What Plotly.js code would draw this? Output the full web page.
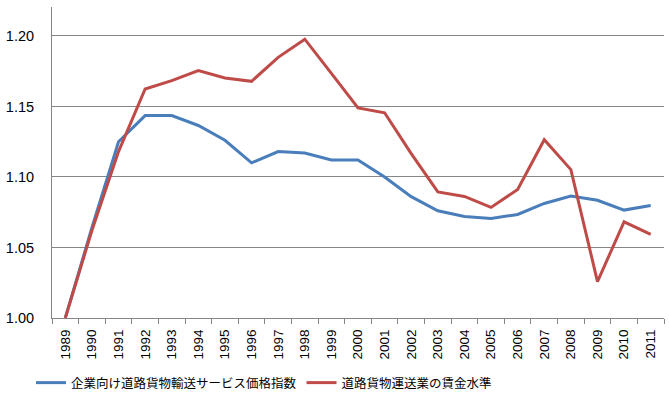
<!DOCTYPE html>
<html>
<head>
<meta charset="utf-8">
<script src="https://cdn.plot.ly/plotly-3.0.1.min.js"></script>
<style>html,body{margin:0;padding:0;background:#fff;}#chart{width:669px;height:397px;}</style>
</head>
<body>
<div id="chart"></div>
<script>
const years = ["1989","1990","1991","1992","1993","1994","1995","1996","1997","1998","1999","2000","2001","2002","2003","2004","2005","2006","2007","2008","2009","2010","2011"];
const seriesNames = ["企業向け道路貨物輸送サービス価格指数", "道路貨物運送業の賃金水準"];
const priceIndex = [1.000,1.064,1.125,1.1435,1.1435,1.1365,1.126,1.110,1.118,1.117,1.112,1.112,1.100,1.086,1.076,1.072,1.0706,1.0734,1.0812,1.0864,1.0835,1.0765,1.0798];
const wageLevel = [1.000,1.062,1.118,1.1624,1.1683,1.1754,1.1702,1.1678,1.1848,1.1977,1.1734,1.149,1.1455,1.1165,1.0894,1.0862,1.0784,1.0911,1.1264,1.1052,1.0258,1.0682,1.0593];
const yTicks = [1.00,1.05,1.10,1.15,1.20];

const traces = [
  {x: years, y: priceIndex, name: seriesNames[0], type: "scatter", mode: "lines",
   line: {color: "#4A7EBB", width: 3}},
  {x: years, y: wageLevel, name: seriesNames[1], type: "scatter", mode: "lines",
   line: {color: "#BE4B48", width: 3}}
];

const layout = {
  width: 669, height: 397,
  margin: {l: 52, r: 5, t: 7, b: 79},
  paper_bgcolor: "#fff", plot_bgcolor: "#fff",
  showlegend: true,
  legend: {orientation: "h", xref: "container", yref: "container",
           x: 31/669, xanchor: "left", y: 14/397, yanchor: "middle",
           font: {family: "Noto Sans CJK JP, sans-serif", size: 12.5, color: "#000"},
           itemwidth: 30, tracegroupgap: 0},
  xaxis: {type: "category", range: [-0.5, 22.5], tickangle: -90,
          ticks: "outside", tickson: "boundaries", ticklen: 5, tickcolor: "#868686",
          showline: true, linecolor: "#868686", linewidth: 1, showgrid: false,
          ticklabelstandoff: 5,
          tickfont: {family: "Liberation Sans, Arial, sans-serif", size: 13.5, color: "#000"}},
  yaxis: {range: [1.0, 1.2205], tickvals: yTicks, ticktext: yTicks.map(v => v.toFixed(2)),
          showgrid: true, gridcolor: "#868686", gridwidth: 1,
          showline: true, linecolor: "#868686", linewidth: 1, zeroline: false,
          ticks: "", ticklen: 0, ticklabelstandoff: 14,
          tickfont: {family: "Liberation Sans, Arial, sans-serif", size: 14.5, color: "#000"}}
};

Plotly.newPlot("chart", traces, layout, {displayModeBar: false, staticPlot: true});
</script>
</body>
</html>
